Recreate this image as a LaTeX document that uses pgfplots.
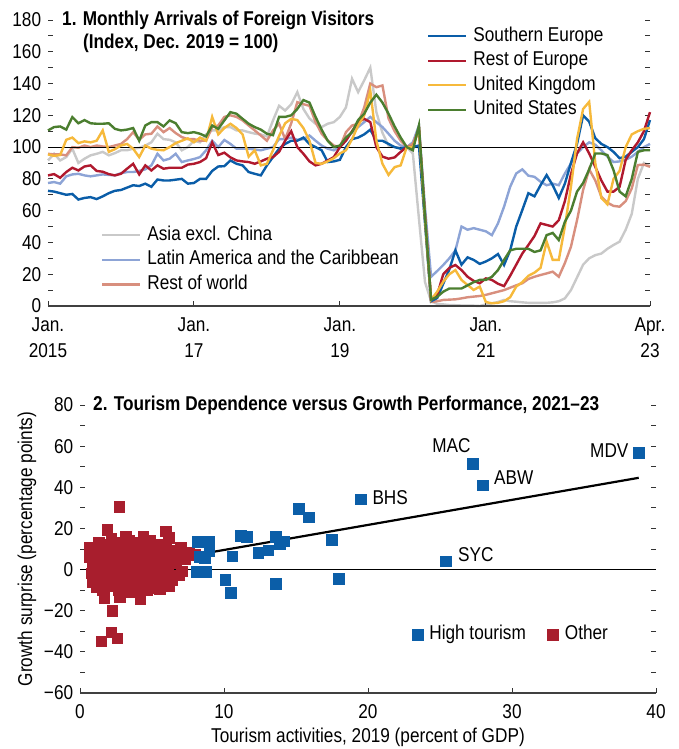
\documentclass[border=0pt]{standalone}
\usepackage{fontspec}
\setmainfont{Liberation Sans}[FakeStretch=0.86]
\usepackage{pgfplots}
\usepackage{pgfplotstable}
\pgfplotsset{compat=1.18}
\definecolor{cSE}{HTML}{0A5DA8}
\definecolor{cRE}{HTML}{B0192E}
\definecolor{cUK}{HTML}{F6B93B}
\definecolor{cUS}{HTML}{4B7E2F}
\definecolor{cAS}{HTML}{C9C9C9}
\definecolor{cLA}{HTML}{8DA4D6}
\definecolor{cRW}{HTML}{D88F7E}
\definecolor{cHT}{HTML}{0B5EA8}
\definecolor{cOT}{HTML}{A81E2D}
\pgfplotstableread{
m se re uk us as la rw
0 72.5 82.2 95.4 110.5 91.6 77.4 95.8
1 72 83 94.5 112.6 95.8 78 95.4
2 71 80.7 95 113 91.6 77 95.4
3 70 84.3 104.6 111 93.7 81.6 94.8
4 70.5 87 106 118.9 99 82.8 100
5 67 85.3 102.5 115 90 83.2 99.6
6 68 87.8 103.6 117 92.7 82.2 101
7 68.5 88.5 103 115 94.8 81.6 100
8 67.3 85 104 114.7 95.8 82.2 101
9 69 84.5 110.5 114.7 97 82.8 100.4
10 71 83 97 115 94.8 82.5 100
11 72.5 82.2 98.7 111.5 96.2 82.2 101
12 73 83.2 101 110.5 98 83.6 102
13 74.5 86.4 102 111 98 84.3 105
14 76 89.5 99 112 99 84.3 109.4
15 75.5 82.8 93.7 104 99.5 85 104.6
16 77 88.5 101 113.6 101 86 108
17 75 85.3 99 115.7 103 88.5 108.4
18 79.6 88.5 98.3 115.7 108.4 95.8 113
19 79 86.4 98 113 105 91.6 109.4
20 79 87 100 116.8 104.6 92.7 112
21 79.5 87 102.5 115 103 95.8 108.8
22 80 87 104 109.4 98 90.6 106.3
23 77 89 105.5 108.8 100 91.6 105
24 77.4 89.5 103 109.4 104 92.5 105
25 80 90.6 106 108.4 103 93.7 104
26 80 93 104 106.7 108 98 104
27 85 103 119 113.6 110.5 104 112.6
28 87.8 95 108 111.5 110.5 100 113.6
29 88 96.5 112 116.8 112.6 104.5 119
30 91.6 93.5 114.7 122 112.6 102 120
31 89.5 91.6 112 121 110.5 99 119
32 88.5 91 108 117.8 110.5 99 116.8
33 84.3 90.6 94 114.7 109.4 99 113.6
34 83.2 89.5 98 112.6 108.5 98.5 110.5
35 82.2 91 88.5 111 108 98 107.3
36 88.5 92.7 89.5 108.4 106.7 99 104
37 93.7 93.7 98 107.5 116.8 100 110.5
38 99 97 107 119 126 105 114.7
39 102 104 115 119 123 105 105
40 104 110 117.8 120 127 106 115
41 104 100 117 124 134.6 104.6 128.3
42 106 95.8 112 129.6 124 105 127
43 102 91 104 128 118 107.3 126
44 100 88.5 90 119 114.7 104 115.7
45 98 89.5 89.5 111 112.6 101 108.4
46 90.6 91.6 91 104 114.7 99 104.2
47 91 93.7 93 100 115.7 98 101
48 92 100 96 101 119 100 100
49 100 104 98 106 125 105 109.4
50 105 110 105 109.4 143 109.4 113.6
51 106 115.7 113.6 117 134.6 112.6 114.7
52 108 117.8 120 121 142 115.7 125
53 111 115.7 135.6 128 150 119 140
54 104 100 104 133 122 115.7 137.7
55 104 94 89.5 128 109 112.6 138.8
56 102 92.7 82.5 121 101 108.4 118
57 100 93.5 87.4 113 100 104 110
58 99 97 88.5 106 99.5 101 104
59 100 100 100 100 100 100 100
60 100 100 100 98 96 103 102
61 101 112 111.5 113.6 55 113.6 111.5
62 52 57 55 56 15 62 55
63 3 4 4 4 3 18.4 2.5
64 5 7 9 5.8 1.3 22 3
65 14 20 15.3 9 1 25.8 3.8
66 23 24 20 11 0.6 30 4
67 35 25.8 22.6 11 0.5 35 4.2
68 26 22.6 16.4 11 0.3 50 4.8
69 30.6 18.4 13.2 13 0.2 48 5.5
70 29 15.8 10.1 15 0.2 49 5.9
71 26.5 14.3 12.2 16.4 0 48 6.3
72 28 17.4 2.5 16.4 1 47 7
73 30 16.4 1.7 18.4 1.7 44.6 8
74 32.7 14 2 22.6 2.5 52 9
75 25.8 12.5 3 29 3.8 62.5 10
76 35 19 5.5 35 3 75 11.5
77 50 26 12.2 36 2.7 83.4 13
78 60.4 33 15 36 2.3 86 14.3
79 71 38.4 19 36 2 82 17
80 69 44 21 34 2 81.3 18.4
81 76 52 24 35 2 78.2 19.5
82 82.4 51 40.5 44.6 2 76 20.5
83 76 50 29 46 2.3 77 21.6
84 68 54 29 41.5 3 76 18.4
85 77 66 50 53 4.8 83.4 27
86 90 83 75 60 10 89.7 37.3
87 102 96 105 72 18 96 54
88 120 103 124 77.4 26 100 73
89 116 96 128.5 86 30 103 86
90 105.6 87.6 90 96 32 101.5 79
91 102 79 68 96 33 98 68.8
92 100 72 64 95 36 94 65
93 97 72 80 85.5 38.4 90.6 63
94 93 75 85 72 40.5 91 62.5
95 94 92 100 69 48 92 66
96 97 98 108 80 58 94 74
97 100 103 110 97 80 97 88.7
98 105 110 111.5 98 90 100 89
99 117 122 112 98 88 102 87.6
}\arrivals
\pgfplotstableread{
x y
38.8 56.7
27.3 51.4
28 40.8
19.5 34
25.4 3.9
15.2 29.5
15.9 25.4
17.5 14.4
18 -4.5
13.6 -7
13.6 15.7
13.9 12.5
14.2 13.6
13.1 9.2
12.4 8.1
11.2 16.2
11.6 15.7
10.6 6.3
10.1 -5
10.5 -11.3
8.2 13.3
9.0 13.3
9.0 9
8.7 5.3
8.3 6
8.1 -1.3
8.75 -1.3
}\hightour
\pgfplotstableread{
x y
2.73 30.3
1.9 19.3
0.65 10.5
5.97 18.6
6.2 15.4
7.0 10.5
6.9 -2.9
5.55 -9.7
4.2 -14.3
4.2 -9.4
2.78 -13.5
1.7 -13.8
1.2 -8.5
2.25 -20
2.2 -30.5
2.6 -33.5
1.5 -35
0.8 -2
0.9 2
1.0 -5
1.1 4
1.2 0
1.3 -3
1.4 7
1.5 -6
1.6 1
1.7 10
1.8 -2
1.9 5
2.0 -8
2.0 12
2.1 2
2.2 -4
2.3 8
2.4 0
2.5 -7
2.5 11
2.6 4
2.7 -2
2.8 13
2.9 6
3.0 -5
3.0 1
3.1 9
3.2 -9
3.3 3
3.4 14
3.4 -1
3.5 7
3.6 -6
3.7 11
3.8 2
3.9 -3
4.0 13
4.0 5
4.1 -7
4.2 9
4.3 0
4.4 -4
4.5 12
4.6 3
4.7 7
4.8 -2
4.9 14
5.0 -6
5.1 10
5.2 4
5.3 -1
5.4 8
5.5 -4
5.6 12
5.7 2
5.8 6
5.9 -7
6.0 10
6.1 0
6.3 5
6.4 -5
6.5 9
6.7 3
6.9 7
7.1 -1
7.3 5
7.6 8
8.0 7
8.3 6
1.3 13
2.2 15
3.6 -11
4.7 -10
5.2 -9
0.7 6
1.0 9
3.2 16
4.4 16
1.6 -10
2.7 -10
0.9 -6
6.2 -8
5.6 -3
}\othertour
\pgfplotstableread{
x y
0.7 -1.8
38.8 44.6
}\fitline
\newcommand{\f}{\fontsize{20}{24}\selectfont}
\begin{document}
\f
\begin{tikzpicture}[font=\f]
\path[use as bounding box] (0pt,0pt) rectangle (679pt,749pt);
% ---------- Panel 1: lower layer with second legend ----------
\begin{axis}[
  at={(48pt,443pt)}, anchor=south west, scale only axis,
  width=602pt, height=286pt,
  xmin=0, xmax=99, ymin=0, ymax=180,
  hide axis, clip=false,
  legend cell align=left,
  legend image code/.code={\draw[#1] (0pt,0pt) -- (38pt,0pt);},
  legend style={at={(rel axis cs:0.088,0.283)}, anchor=north west,
    draw=none, fill=none, inner sep=0pt, outer sep=0pt,
    row sep=4.8pt, column sep=5pt,
    nodes={inner sep=1pt, text height=14pt, text depth=4pt, font=\f}},
]
\addplot[cAS, line width=2.4pt] table[x=m, y=as] {\arrivals};
\addlegendentry{Asia excl. China}
\addplot[cLA, line width=2.4pt] table[x=m, y=la] {\arrivals};
\addlegendentry{Latin America and the Caribbean}
\addplot[cRW, line width=2.4pt] table[x=m, y=rw] {\arrivals};
\addlegendentry{Rest of world}
\end{axis}
% ---------- Panel 1: main axis ----------
\begin{axis}[
  at={(48pt,443pt)}, anchor=south west, scale only axis,
  width=602pt, height=286pt,
  xmin=0, xmax=99, ymin=0, ymax=180,
  clip=false,
  axis x line*=bottom, axis y line*=box,
  separate axis lines,
  y axis line style={draw=none},
  x axis line style={-, line width=1.1pt, black!75},
  tick align=inside,
  major tick length=5pt, minor tick length=5pt,
  tick style={line width=0.9pt, black!80},
  ytick={0,20,...,180}, minor y tick num=1,
  xtick={0,24,48,72,99},
  xticklabels={{Jan.\\[1.5pt]2015},{Jan.\\[1.5pt]17},{Jan.\\[1.5pt]19},{Jan.\\[1.5pt]21},{Apr.\\[1.5pt]23}},
  xticklabel style={align=center, font=\f, yshift=-5pt},
  yticklabel style={font=\f},
  /pgf/number format/assume math mode=true,
  legend cell align=left,
  legend image code/.code={\draw[#1] (0pt,0pt) -- (38pt,0pt);},
  legend style={at={(rel axis cs:0.6296,0.978)}, anchor=north west,
    draw=none, fill=none, inner sep=0pt, outer sep=0pt,
    row sep=4.5pt, column sep=5pt,
    nodes={inner sep=1pt, text height=14pt, text depth=4pt, font=\f}},
]
\addplot[black, line width=0.9pt, forget plot] coordinates {(0,100) (99,100)};
\addplot[cSE, line width=2.4pt] table[x=m, y=se] {\arrivals};
\addlegendentry{Southern Europe}
\addplot[cRE, line width=2.4pt] table[x=m, y=re] {\arrivals};
\addlegendentry{Rest of Europe}
\addplot[cUK, line width=2.4pt] table[x=m, y=uk] {\arrivals};
\addlegendentry{United Kingdom}
\addplot[cUS, line width=2.4pt] table[x=m, y=us] {\arrivals};
\addlegendentry{United States}
\end{axis}
\node[anchor=base west, font=\f\bfseries, inner sep=0pt] at (62pt,723pt) {1. Monthly Arrivals of Foreign Visitors};
\node[anchor=base west, font=\f\bfseries, inner sep=0pt] at (83pt,700pt) {(Index, Dec. 2019 = 100)};
% ---------- Panel 2 ----------
\begin{axis}[
  at={(80pt,56pt)}, anchor=south west, scale only axis,
  width=576pt, height=288pt,
  xmin=0, xmax=40, ymin=-60, ymax=80,
  clip=false,
  axis x line*=bottom, axis y line*=box,
  separate axis lines,
  y axis line style={draw=none},
  x axis line style={-, line width=1.1pt, black!75},
  tick align=inside,
  major tick length=5pt, minor tick length=5pt,
  tick style={line width=0.9pt, black!80},
  ytick={-60,-40,...,80}, minor y tick num=1,
  yticklabels={−60,−40,−20,0,20,40,60,80},
  xtick={0,10,...,40},
  xticklabel style={font=\f, yshift=-5pt},
  yticklabel style={font=\f},
  /pgf/number format/assume math mode=true,
  xlabel={Tourism activities, 2019 (percent of GDP)},
  ylabel={Growth surprise (percentage points)},
  every axis x label/.style={at={(rel axis cs:0.5,-0.153)}, anchor=center, font=\f},
  every axis y label/.style={at={(rel axis cs:-0.092,0.5)}, rotate=90, anchor=center, font=\f},
  legend columns=2,
  legend style={at={(rel axis cs:0.577,0.2014)}, anchor=west,
    draw=none, fill=none, inner sep=0pt, outer sep=0pt,
    /tikz/every odd column/.append style={column sep=5pt},
    /tikz/every even column/.append style={column sep=21pt},
    nodes={inner sep=1pt, text height=14pt, text depth=4pt, font=\f}},
]
\addplot[black, line width=0.9pt, forget plot] coordinates {(0,0) (40,0)};
\addlegendimage{cHT, only marks, mark=square*, mark size=5.5pt, mark options={draw=cHT, fill=cHT, line width=0pt}}
\addlegendentry{High tourism}
\addlegendimage{cOT, only marks, mark=square*, mark size=5.5pt, mark options={draw=cOT, fill=cOT, line width=0pt}}
\addlegendentry{Other}
\addplot[cOT, only marks, mark=square*, mark size=5.3pt, mark options={draw=cOT, fill=cOT, line width=0pt}, forget plot] table[x=x, y=y] {\othertour};
\addplot[cHT, only marks, mark=square*, mark size=5.3pt, mark options={draw=cHT, fill=cHT, line width=0pt}, forget plot] table[x=x, y=y] {\hightour};
\addplot[black, line width=2.2pt, forget plot] table[x=x, y=y] {\fitline};
\node[anchor=east, inner sep=0pt, font=\f] at (axis cs:38.1,57.9) {MDV};
\node[anchor=center, inner sep=0pt, font=\f] at (axis cs:25.8,60.3) {MAC};
\node[anchor=west, inner sep=0pt, font=\f] at (axis cs:28.75,44.6) {ABW};
\node[anchor=west, inner sep=0pt, font=\f] at (axis cs:20.3,35) {BHS};
\node[anchor=west, inner sep=0pt, font=\f] at (axis cs:26.25,7.3) {SYC};
\end{axis}
\node[anchor=base west, font=\f\bfseries, inner sep=0pt] at (93pt,338pt) {2. Tourism Dependence versus Growth Performance, 2021–23};
\end{tikzpicture}
\end{document}
